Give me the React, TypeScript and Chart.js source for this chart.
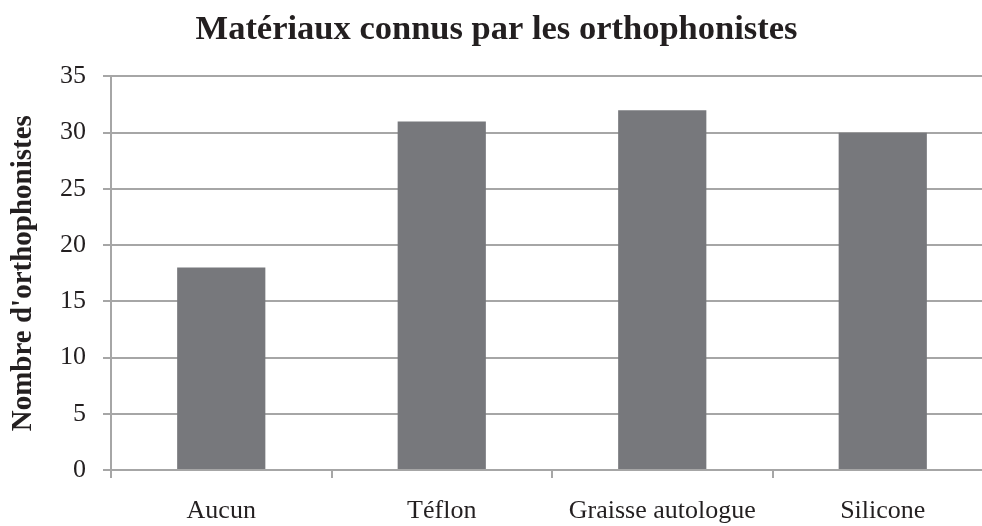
import React, { useEffect, useRef } from "react";
import { Chart, registerables } from "chart.js";

Chart.register(...registerables);

const categories = ["Aucun", "Téflon", "Graisse autologue", "Silicone"];
const values = [18, 31, 32, 30];
const chartTitle = "Matériaux connus par les orthophonistes";
const yAxisTitle = "Nombre d'orthophonistes";

const FONT = "'Liberation Serif', 'Times New Roman', serif";

export default function App() {
  const ref = useRef<HTMLCanvasElement | null>(null);
  useEffect(() => {
    if (!ref.current) return;
    const chart = new Chart(ref.current, {
      type: "bar",
      data: {
        labels: categories,
        datasets: [
          {
            data: values,
            backgroundColor: "#77787c",
            borderWidth: 0,
            categoryPercentage: 1,
            barPercentage: 0.4,
          },
        ],
      },
      options: {
        responsive: false,
        animation: false,
        devicePixelRatio: 1,
        layout: { padding: { left: 0, right: 0, top: 0, bottom: 0 } },
        plugins: {
          legend: { display: false },
          tooltip: { enabled: false },
          title: {
            display: true,
            text: chartTitle,
            color: "#231f20",
            font: { family: FONT, size: 34.5, weight: "bold" },
            padding: { top: 9, bottom: 26 },
          },
        },
        scales: {
          x: {
            grid: {
              display: true,
              drawOnChartArea: false,
              drawTicks: true,
              tickLength: 8,
              color: "#a6a6a6",
              lineWidth: 2,
              offset: true,
            },
            border: { display: true, color: "#a6a6a6", width: 2 },
            ticks: {
              color: "#231f20",
              font: { family: FONT, size: 26 },
              padding: 18,
              maxRotation: 0,
              autoSkip: false,
            },
            afterFit: (s: any) => {
              s.height = 56;
            },
          },
          y: {
            min: 0,
            max: 35,
            ticks: {
              stepSize: 5,
              color: "#231f20",
              font: { family: FONT, size: 26 },
              padding: 17,
            },
            grid: {
              color: "#a6a6a6",
              lineWidth: 2,
              tickLength: 8,
            },
            border: { display: true, color: "#a6a6a6", width: 2 },
            title: {
              display: true,
              text: yAxisTitle,
              color: "#231f20",
              font: { family: FONT, size: 29, weight: "bold" },
              padding: { top: 6, bottom: 0 },
            },
            afterFit: (s: any) => {
              s.width = 111;
            },
          },
        },
      },
    });
    return () => chart.destroy();
  }, []);
  return (
    <div
      style={{
        position: "fixed",
        left: 0,
        top: 0,
        width: 982,
        height: 526,
        overflow: "hidden",
        background: "#ffffff",
      }}
    >
      <canvas ref={ref} width={993} height={526} style={{ display: "block" }} />
    </div>
  );
}
